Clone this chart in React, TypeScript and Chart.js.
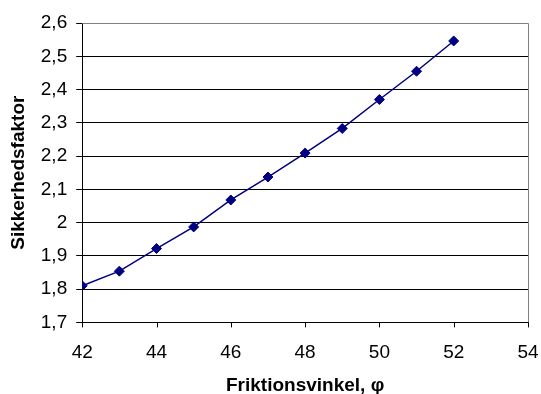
import React, { useEffect, useRef } from "react";
import { Chart, registerables } from "chart.js";

Chart.register(...registerables);

const xValues = [42, 43, 44, 45, 46, 47, 48, 49, 50, 51, 52];
const yValues = [1.81, 1.854, 1.922, 1.987, 2.068, 2.137, 2.209, 2.283, 2.37, 2.455, 2.546];
const xTitle = "Friktionsvinkel, φ";
const yTitle = "Sikkerhedsfaktor";

const FONT = "Arial, 'Liberation Sans', sans-serif";

const borderPlugin = {
  id: "plotBorder",
  afterDraw(chart: any) {
    const { ctx, chartArea } = chart;
    ctx.save();
    ctx.strokeStyle = "#808080";
    ctx.lineWidth = 1;
    ctx.beginPath();
    ctx.moveTo(chartArea.left, chartArea.top + 0.5);
    ctx.lineTo(chartArea.right + 0.5, chartArea.top + 0.5);
    ctx.lineTo(chartArea.right + 0.5, chartArea.bottom);
    ctx.stroke();
    // x-axis tick marks (5px below the axis)
    const xs = chart.scales.x;
    ctx.strokeStyle = "#000";
    ctx.beginPath();
    xs.ticks.forEach((t: any) => {
      const px = Math.round(xs.getPixelForValue(t.value)) + 0.5;
      ctx.moveTo(px, chartArea.bottom);
      ctx.lineTo(px, chartArea.bottom + 5);
    });
    ctx.stroke();
    ctx.restore();
  },
};

export default function App() {
  const ref = useRef<HTMLCanvasElement>(null);
  useEffect(() => {
    document.body.style.margin = "0";
    const chart = new Chart(ref.current!, {
      type: "line",
      data: {
        datasets: [
          {
            data: xValues.map((x, i) => ({ x, y: yValues[i] })),
            borderColor: "#000080",
            backgroundColor: "#000080",
            borderWidth: 1.5,
            pointStyle: "rectRot",
            pointRadius: 5,
            pointBorderWidth: 1,
            tension: 0,
          },
        ],
      },
      options: {
        animation: false,
        responsive: false,
        layout: { padding: { top: 23, right: 13, left: 7, bottom: 0 } },
        plugins: { legend: { display: false }, tooltip: { enabled: false } },
        scales: {
          x: {
            type: "linear",
            min: 42,
            max: 54,
            ticks: {
              stepSize: 2,
              color: "#000",
              font: { family: FONT, size: 19 },
              padding: 0,
            },
            grid: {
              drawOnChartArea: false,
              drawTicks: true,
              tickLength: 19,
              tickColor: "rgba(0,0,0,0)",
              color: "#000",
            },
            border: { color: "#000", width: 1 },
            title: {
              display: true,
              text: xTitle,
              color: "#000",
              font: { family: FONT, size: 19, weight: "bold" },
              padding: { top: 10, bottom: -3 },
            },
          },
          y: {
            min: 1.7,
            max: 2.6,
            ticks: {
              stepSize: 0.1,
              color: "#000",
              font: { family: FONT, size: 19 },
              padding: 9,
              callback: (v: any) => String(Number(Number(v).toFixed(1))).replace(".", ","),
            },
            grid: { color: "#000", tickLength: 6, lineWidth: 1 },
            border: { color: "#000", width: 1 },
            title: {
              display: true,
              text: yTitle,
              color: "#000",
              font: { family: FONT, size: 19, weight: "bold" },
              padding: { top: 0, bottom: 2 },
            },
          },
        },
      },
      plugins: [borderPlugin],
    });
    return () => chart.destroy();
  }, []);
  return <canvas ref={ref} width={541} height={394} style={{ display: "block" }} />;
}
